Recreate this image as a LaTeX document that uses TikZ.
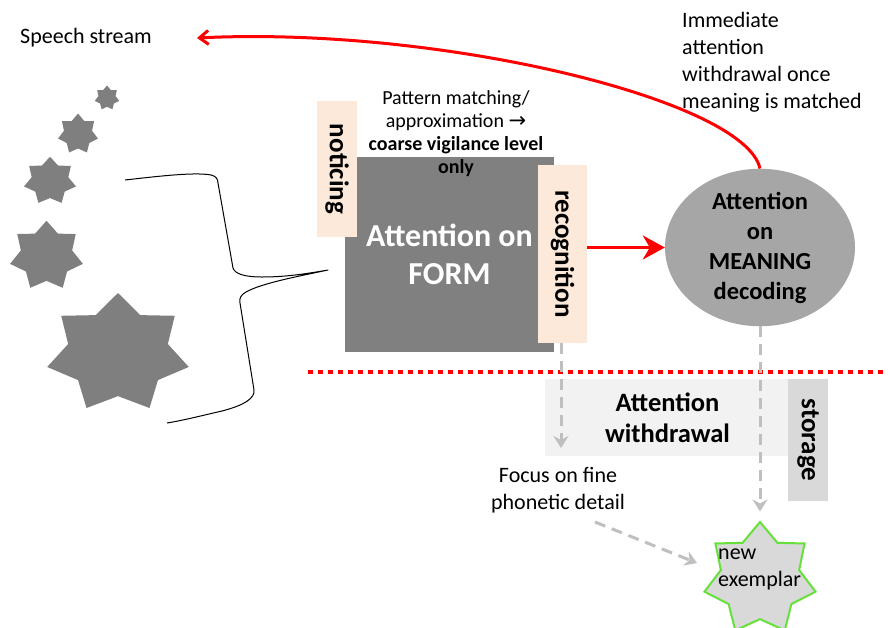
\documentclass[tikz,border=0pt]{standalone}
\usepackage{fontspec}
\setmainfont{Carlito}
\newfontfamily\symbolfont{DejaVu Sans}
\usetikzlibrary{shapes.geometric,arrows.meta}

\definecolor{formgray}{HTML}{808080}
\definecolor{meangray}{HTML}{A6A6A6}
\definecolor{stargray}{HTML}{7F7F7F}
\definecolor{peach}{HTML}{FDE9D9}
\definecolor{palegray}{HTML}{F2F2F2}
\definecolor{storegray}{HTML}{D9D9D9}
\definecolor{dashgray}{HTML}{BFBFBF}
\definecolor{exgreen}{HTML}{66E03A}

\tikzset{
  plain/.style={inner sep=0pt, font=\fontsize{22}{27}\selectfont},
  sidelabel/.style={fill=peach, rotate=-90, inner sep=0pt,
    font=\bfseries\fontsize{27}{32}\selectfont},
  graystar/.style={star, star points=7, star point ratio=1.42, fill=stargray,
    inner sep=0pt, draw=none},
  redarrow/.style={draw=red, line width=3pt},
  grayarrow/.style={draw=dashgray, line width=3pt, dash pattern=on 11pt off 7pt,
    -{Stealth[length=12pt, width=15pt, inset=4pt]}},
}

\begin{document}
\begin{tikzpicture}[x=1pt, y=-1pt]
\useasboundingbox (0,0) rectangle (888,627);

% incoming speech: a row of growing stars
\node[graystar, minimum size=25] (s1) at (107,98) {};
\node[graystar, minimum size=41] (s2) at (78,134) {};
\begin{scope}[shift={(50,181)}, xscale=1.1]
  \node[graystar, minimum size=48.5, transform shape] (s3) at (0,0) {};
\end{scope}
\begin{scope}[shift={(46.5,256)}, xscale=1.06]
  \node[graystar, minimum size=70.5, transform shape] (s4) at (0,0) {};
\end{scope}
\begin{scope}[shift={(118,353.5)}, xscale=1.2]
  \node[graystar, minimum size=121, transform shape] (s5) at (0,0) {};
\end{scope}

% brace gathering the stars
\draw[line width=1pt, line join=round]
  (125,180) .. controls (160,176) and (195,172) .. (211,175)
  .. controls (215,176) and (218,178) .. (218,183)
  -- (233,268) .. controls (235,274) and (245,277) .. (262,277)
  .. controls (285,277) and (305,274) .. (328,270)
  .. controls (300,276) and (262,283) .. (246,292)
  .. controls (241,295) and (239,298) .. (240,303)
  -- (254,390) .. controls (255,398) and (245,405) .. (222,411)
  .. controls (200,416) and (185,420) .. (167,423);

% form processing
\node[fill=formgray, minimum width=209, minimum height=195, inner sep=0pt,
  text=white, align=center, font=\bfseries\fontsize{32}{38}\selectfont]
  (form) at (449.5,254.5) {Attention on\\FORM};
\node[sidelabel, minimum width=136, minimum height=40] (notice) at (337,169) {noticing};
\node[sidelabel, minimum width=178, minimum height=49] (rec) at (562.5,254) {recognition};
\node[align=center, inner sep=0pt, font=\fontsize{20}{23}\selectfont] (pattern) at (456,134)
  {Pattern matching/\\approximation {\symbolfont\fontsize{21}{23}\selectfont →}\\
   \textbf{coarse vigilance level}\\\textbf{only}};

% meaning decoding
\node[ellipse, fill=meangray, minimum width=190, minimum height=138, inner sep=0pt,
  align=center, font=\bfseries\fontsize{24.5}{30}\selectfont]
  (mean) at (760,247.5) {Attention\\on\\MEANING\\decoding};

\node[plain, anchor=west] (speech) at (20,37.5) {Speech stream};
\coordinate (speechtip) at (197,38);
\node[plain, anchor=west, align=left] (withdraw) at (682,62)
  {Immediate\\attention\\withdrawal once\\meaning is matched};

\draw[redarrow, -{Straight Barb[length=9pt, width=14pt]}]
  (mean.north) .. controls (745,100) and (440,26) .. (speechtip);
\draw[redarrow, -{Stealth[length=22pt, width=24pt, inset=7pt]}]
  (rec.north |- mean.west) -- (mean.west);

% boundary of conscious attention
\coordinate (lineL) at (308,372);
\coordinate (lineR) at (888,372);
\draw[red, line width=4.5pt, dash pattern=on 5pt off 5pt] (lineL) -- (lineR);

% below the boundary
\node[fill=palegray, minimum width=245, minimum height=77, inner sep=0pt,
  align=center, font=\bfseries\fontsize{26.5}{31}\selectfont]
  (wd) at (667.5,417.5) {Attention\\withdrawal};
\node[fill=storegray, rotate=-90, minimum width=122, minimum height=40, inner sep=0pt,
  font=\bfseries\fontsize{27}{32}\selectfont] (store) at (808,440) {storage};

\node[plain, align=center] (focus) at (558,490) {Focus on fine\\phonetic detail};

\node[star, star points=7, star point ratio=1.42, minimum size=114, inner sep=0pt,
  fill=storegray, draw=exgreen, line width=2pt] (ex) at (760,579) {};
\node[plain, anchor=west, align=left] (extext) at (718,569) {new\\exemplar};

\coordinate (rectip) at (561,448);
\coordinate (focstart) at (595,522);
\coordinate (foctip) at (697,563);
\draw[grayarrow] (rec.east -| rectip) -- (rectip);
\draw[grayarrow, shorten >=9pt] (mean.south) -- (ex.north);
\draw[grayarrow] (focstart) -- (foctip);

\end{tikzpicture}
\end{document}
